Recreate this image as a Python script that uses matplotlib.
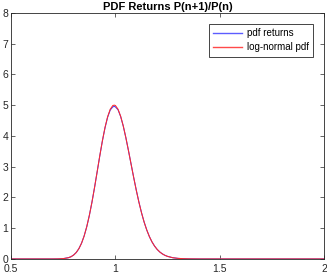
import matplotlib
matplotlib.use("Agg")
import matplotlib.pyplot as plt

# values
x = [0.5, 0.6, 0.7, 0.725, 0.75, 0.775, 0.7875, 0.8, 0.8125, 0.825, 0.8375,
     0.85, 0.8625, 0.875, 0.8875, 0.9, 0.9125, 0.925, 0.9375, 0.95, 0.9625,
     0.975, 0.9875, 0.995, 1.0, 1.0125, 1.025, 1.0375, 1.05, 1.0625, 1.075,
     1.0875, 1.1, 1.1125, 1.125, 1.1375, 1.15, 1.1625, 1.175, 1.1875, 1.2,
     1.2125, 1.225, 1.2375, 1.25, 1.275, 1.3, 1.325, 1.35, 1.4, 1.5, 1.75, 2.0]
pdf_returns = [0.0, 0.0, 0.0, 0.002, 0.011, 0.041, 0.074, 0.13, 0.212, 0.337,
               0.511, 0.746, 1.046, 1.415, 1.845, 2.326, 2.836, 3.35, 3.835,
               4.26, 4.605, 4.84, 4.945, 4.96, 4.94, 4.85, 4.63, 4.32, 3.94,
               3.52, 3.085, 2.65, 2.235, 1.85, 1.505, 1.20, 0.945, 0.73,
               0.557, 0.419, 0.31, 0.227, 0.164, 0.117, 0.083, 0.039, 0.018,
               0.008, 0.003, 0.0, 0.0, 0.0, 0.0]
lognormal_pdf = [0.0, 0.0, 0.0, 0.002, 0.010, 0.040, 0.073, 0.128, 0.212,
                 0.336, 0.510, 0.745, 1.047, 1.416, 1.847, 2.328, 2.839,
                 3.354, 3.842, 4.274, 4.622, 4.865, 4.988, 5.0, 4.987, 4.867,
                 4.639, 4.324, 3.944, 3.522, 3.083, 2.647, 2.230, 1.845,
                 1.500, 1.199, 0.943, 0.730, 0.556, 0.418, 0.310, 0.226,
                 0.163, 0.116, 0.082, 0.039, 0.018, 0.0076, 0.003, 0.0, 0.0,
                 0.0, 0.0]

plt.rcParams['font.family'] = ['Liberation Sans', 'DejaVu Sans']
fig = plt.figure(figsize=(3.27, 2.74), dpi=100)
ax = fig.add_axes([0.034, 0.055, 0.957, 0.898])

ax.plot(x, pdf_returns, color='#3d3dff', lw=0.75, label='pdf returns')
ax.plot(x, lognormal_pdf, color='#ff2a2a', lw=0.75, label='log-normal pdf')

ax.set_xlim(0.5, 2)
ax.set_ylim(0, 8)
ax.set_xticks([0.5, 1, 1.5, 2])
ax.set_xticklabels(['0.5', '1', '1.5', '2'])
ax.set_yticks(range(0, 9))
ax.tick_params(direction='in', length=3, width=0.5, labelsize=7.5,
               top=True, right=True, colors='#262626')
ax.tick_params(axis='x', pad=4)
ax.tick_params(axis='y', pad=2)
for s in ax.spines.values():
    s.set_linewidth(0.6)
    s.set_color('#262626')
ax.set_title('PDF Returns P(n+1)/P(n)', fontsize=8, fontweight='bold', pad=2)

leg = ax.legend(loc='upper right', fontsize=7, fancybox=False, framealpha=1,
                edgecolor='#262626', handlelength=3.0, borderpad=0.45,
                labelspacing=0.45, handletextpad=0.5, borderaxespad=1.1)
leg.get_frame().set_linewidth(0.6)
for h, c in zip(leg.get_lines(), ['#5c5cff', '#ff4a4a']):
    h.set_color(c)
    h.set_linewidth(1.0)

fig.savefig('out.png', dpi=100)
